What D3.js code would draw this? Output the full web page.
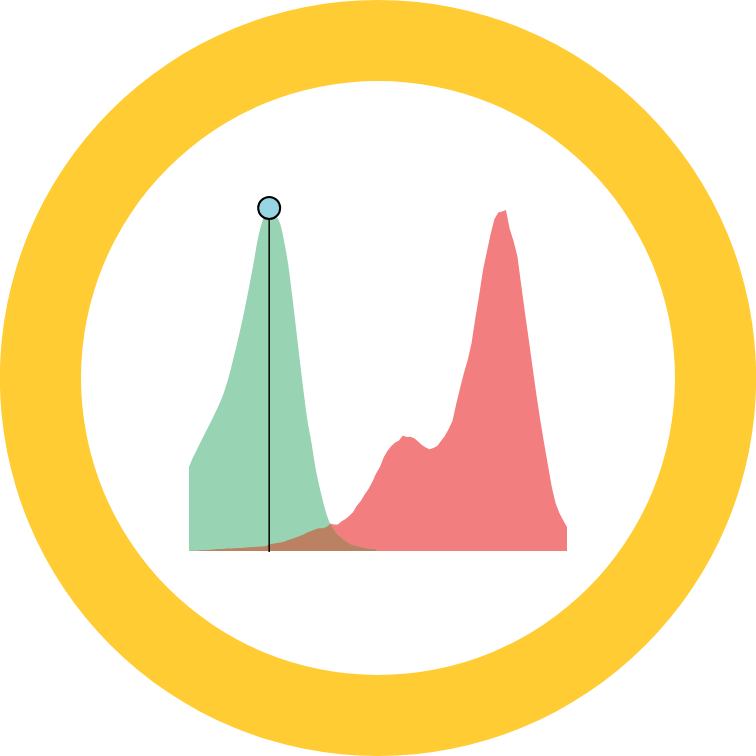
<!DOCTYPE html>
<html>
<head>
<meta charset="utf-8">
<script src="https://cdn.jsdelivr.net/npm/d3@7"></script>
<style>
  html, body { margin: 0; padding: 0; background: #fff; }
  svg { display: block; }
</style>
</head>
<body>
<div id="chart"></div>
<script>
// 数据：两条分布曲线（同一横轴，0..99）
const green = [24.5, 27.2, 29.4, 31.7, 33.9, 36.1, 38.3, 40.6, 43.0, 45.8,
	49.2, 53.3, 57.8, 62.5, 67.4, 72.8, 78.5, 84.5, 90.8, 95.3,
	98.3, 100, 98.8, 97.4, 95.0, 89.8, 83.4, 74.6, 65.3, 55.7,
	46.6, 38.2, 32.1, 25.1, 19.5, 14.9, 10.8, 7.9, 6.1, 4.7,
	3.8, 2.9, 2.2, 1.7, 1.5, 1.2, 0.9, 0.7, 0.6, 0.5];

const red = [0, 0.06, 0.1, 0.2, 0.2, 0.3, 0.4, 0.5, 0.55, 0.6,
	0.7, 0.7, 0.8, 0.85, 0.9, 1.0, 1.1, 1.2, 1.25, 1.3,
	1.4, 1.9, 2.1, 2.3, 2.5, 2.8, 3.2, 3.6, 3.9, 4.4,
	4.8, 5.4, 5.8, 6.3, 6.6, 6.6, 7.0, 8.0, 7.7, 7.7,
	8.7, 9.3, 10.3, 11.4, 13.3, 14.6, 16.5, 18.1, 20.1, 22.6,
	24.5, 27.3, 29.2, 30.6, 31.6, 32.2, 33.7, 33.2, 33.3, 32.9,
	31.9, 30.9, 30.2, 29.7, 30.0, 30.6, 32.1, 33.5, 35.6, 37.9,
	42.9, 47.5, 51.9, 55.7, 60.6, 67.9, 74.6, 81.9, 87.2, 92.4,
	96.8, 98.7, 99.0, 99.4, 93.9, 90.4, 86.0, 77.6, 69.4, 61.5,
	53.4, 45.5, 38.2, 31.5, 25.1, 18.7, 14.0, 11.1, 9.0, 7.0];

const width = 756;
const height = 756;
const margin = ({ top: 208, right: 189, bottom: 205, left: 189 });

const svg = d3.select('#chart')
	.append('svg')
	.attr('width', width)
	.attr('height', height)
	.attr('viewBox', [0, 0, width, height]);

// 外圈黄色圆环
svg.append('path')
	.attr('transform', `translate(${width / 2},${height / 2})`)
	.attr('d', d3.arc()({ innerRadius: 297, outerRadius: 378, startAngle: 0, endAngle: 2 * Math.PI }))
	.attr('fill', '#FFCC33');

const x = d3.scaleLinear()
	.domain([0, red.length - 1])
	.range([margin.left, width - margin.right]);

const y = d3.scaleLinear()
	.domain([0, 100])
	.range([height - margin.bottom, margin.top]);

const area = d3.area()
	.x((d, i) => x(i))
	.y0(y(0))
	.y1(d => y(d));

// 红色在下
svg.append('path')
	.datum(red)
	.attr('fill', '#F37E7F')
	.attr('d', area);

// 绿色
svg.append('path')
	.datum(green)
	.attr('fill', '#98D3B3')
	.attr('d', area.curve(d3.curveMonotoneX));

// 重叠部分
const overlap = green.map((d, i) => Math.min(d, red[i]));
svg.append('path')
	.datum(overlap)
	.attr('fill', '#BA8163')
	.attr('d', area.curve(d3.curveLinear));

// 绿色峰值标记
const peak = d3.maxIndex(green);
svg.append('line')
	.attr('x1', x(peak))
	.attr('x2', x(peak))
	.attr('y1', y(green[peak]))
	.attr('y2', y(0) + 1)
	.attr('stroke', '#000')
	.attr('stroke-width', 1.5);

svg.append('circle')
	.attr('cx', x(peak))
	.attr('cy', y(green[peak]))
	.attr('r', 11)
	.attr('fill', '#97D5E4')
	.attr('stroke', '#000')
	.attr('stroke-width', 2);
</script>
</body>
</html>
